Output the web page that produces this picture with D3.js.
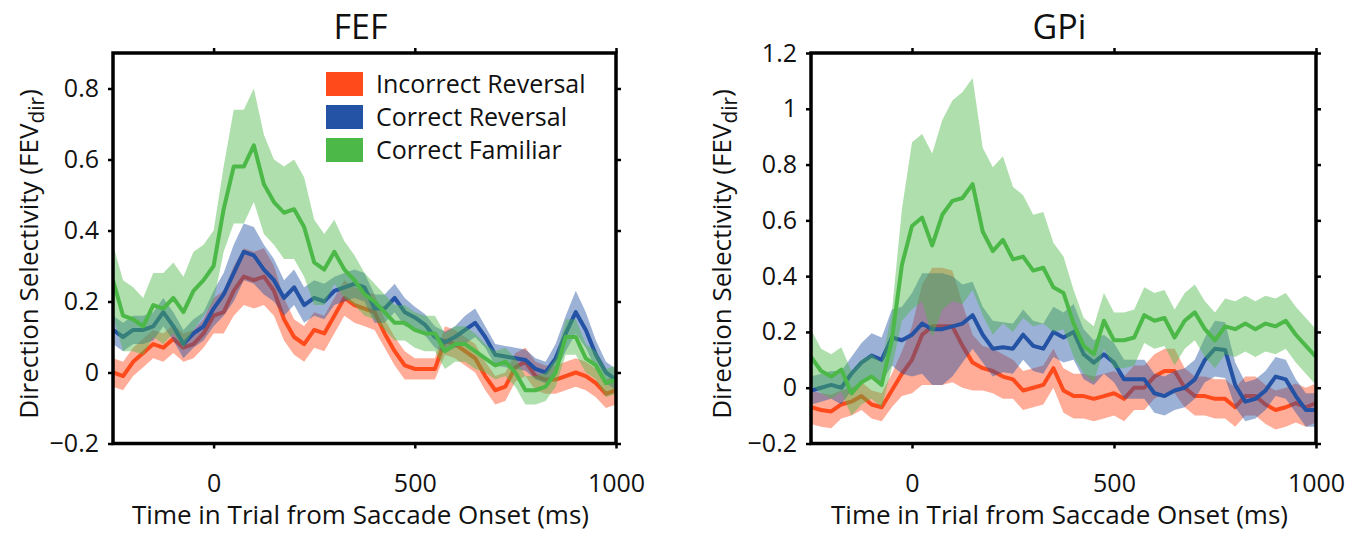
<!DOCTYPE html>
<html>
<head>
<meta charset="utf-8">
<script src="https://cdn.jsdelivr.net/npm/d3@7"></script>
<style>
  body { margin: 0; background: #fff; }
  svg { display: block; font-family: "Open Sans", "DejaVu Sans", sans-serif; }
</style>
</head>
<body>
<svg id="chart" width="1353" height="535"></svg>
<script>
// time axis, 25 ms bins from -250 to 1000 ms
var times = d3.range(-250, 1001, 25);

var seriesNames = ['Incorrect Reversal', 'Correct Reversal', 'Correct Familiar'];
var seriesColors = ['#ff4a1c', '#2452a4', '#4cb848'];

// FEF
var fefRed = [0.00, -0.01, 0.03, 0.055, 0.08, 0.07, 0.095, 0.07, 0.08, 0.11, 0.16, 0.17, 0.23, 0.27, 0.26, 0.27, 0.23, 0.15, 0.10, 0.08, 0.12, 0.11, 0.16, 0.21, 0.19, 0.18, 0.17, 0.11, 0.06, 0.02, 0.01, 0.01, 0.01, 0.09, 0.08, 0.06, 0.04, -0.01, -0.05, -0.04, 0.015, 0.03, -0.01, -0.02, -0.02, -0.01, 0.0, -0.01, -0.03, -0.06, -0.05];
var fefRedErr = [0.04, 0.04, 0.04, 0.04, 0.04, 0.04, 0.04, 0.04, 0.04, 0.04, 0.05, 0.06, 0.07, 0.08, 0.08, 0.08, 0.07, 0.06, 0.05, 0.05, 0.05, 0.05, 0.05, 0.05, 0.05, 0.05, 0.05, 0.04, 0.04, 0.04, 0.03, 0.03, 0.03, 0.04, 0.04, 0.04, 0.04, 0.04, 0.04, 0.04, 0.04, 0.04, 0.04, 0.04, 0.04, 0.04, 0.04, 0.04, 0.04, 0.04, 0.04];
var fefBlue = [0.12, 0.10, 0.12, 0.12, 0.13, 0.17, 0.13, 0.08, 0.11, 0.13, 0.18, 0.22, 0.28, 0.34, 0.33, 0.29, 0.26, 0.21, 0.24, 0.19, 0.21, 0.20, 0.23, 0.24, 0.25, 0.24, 0.18, 0.18, 0.21, 0.17, 0.155, 0.135, 0.10, 0.085, 0.10, 0.12, 0.14, 0.10, 0.05, 0.045, 0.04, 0.035, 0.01, 0.0, 0.04, 0.11, 0.17, 0.12, 0.05, 0.0, -0.02];
var fefBlueErr = [0.04, 0.04, 0.04, 0.04, 0.04, 0.04, 0.04, 0.04, 0.04, 0.04, 0.05, 0.06, 0.08, 0.08, 0.08, 0.07, 0.06, 0.05, 0.05, 0.05, 0.05, 0.05, 0.04, 0.04, 0.04, 0.04, 0.04, 0.04, 0.04, 0.04, 0.03, 0.03, 0.03, 0.03, 0.03, 0.04, 0.04, 0.03, 0.03, 0.03, 0.03, 0.03, 0.03, 0.03, 0.04, 0.05, 0.06, 0.05, 0.04, 0.03, 0.03];
var fefGreen = [0.26, 0.16, 0.15, 0.13, 0.19, 0.18, 0.21, 0.17, 0.23, 0.26, 0.30, 0.46, 0.58, 0.58, 0.64, 0.53, 0.48, 0.45, 0.46, 0.41, 0.31, 0.29, 0.34, 0.29, 0.26, 0.22, 0.20, 0.17, 0.14, 0.14, 0.12, 0.11, 0.11, 0.06, 0.08, 0.08, 0.06, 0.04, 0.02, 0.03, 0.0, -0.05, -0.05, -0.04, 0.0, 0.10, 0.10, 0.04, 0.02, -0.03, -0.02];
var fefGreenErr = [0.10, 0.10, 0.09, 0.08, 0.09, 0.10, 0.10, 0.10, 0.11, 0.10, 0.10, 0.12, 0.16, 0.16, 0.16, 0.14, 0.12, 0.13, 0.14, 0.14, 0.12, 0.10, 0.09, 0.08, 0.07, 0.06, 0.05, 0.05, 0.05, 0.05, 0.05, 0.05, 0.05, 0.05, 0.05, 0.05, 0.05, 0.04, 0.04, 0.04, 0.04, 0.04, 0.04, 0.04, 0.04, 0.05, 0.05, 0.04, 0.04, 0.04, 0.04];

// GPi
var gpiRed = [-0.07, -0.08, -0.085, -0.06, -0.05, -0.03, -0.06, -0.07, -0.01, 0.05, 0.10, 0.19, 0.22, 0.22, 0.22, 0.15, 0.09, 0.07, 0.06, 0.04, 0.03, -0.01, 0.0, 0.01, 0.07, -0.01, -0.03, -0.03, -0.04, -0.03, -0.02, -0.04, 0.0, 0.0, 0.04, 0.06, 0.06, 0.0, -0.03, -0.03, -0.04, -0.04, -0.07, -0.03, -0.03, -0.06, -0.08, -0.07, -0.055, -0.07, -0.055];
var gpiRedErr = [0.06, 0.06, 0.06, 0.05, 0.05, 0.05, 0.05, 0.05, 0.06, 0.08, 0.12, 0.18, 0.21, 0.21, 0.20, 0.15, 0.10, 0.08, 0.08, 0.08, 0.07, 0.07, 0.07, 0.07, 0.07, 0.08, 0.08, 0.08, 0.08, 0.08, 0.08, 0.08, 0.08, 0.08, 0.08, 0.08, 0.08, 0.07, 0.07, 0.07, 0.07, 0.07, 0.07, 0.07, 0.07, 0.07, 0.07, 0.07, 0.07, 0.07, 0.07];
var gpiBlue = [-0.01, 0.0, 0.01, 0.0, 0.05, 0.09, 0.115, 0.10, 0.18, 0.17, 0.19, 0.23, 0.21, 0.21, 0.22, 0.23, 0.26, 0.19, 0.14, 0.145, 0.14, 0.19, 0.15, 0.14, 0.20, 0.18, 0.20, 0.12, 0.09, 0.12, 0.09, 0.03, 0.03, 0.03, -0.02, -0.03, -0.01, 0.0, 0.03, 0.10, 0.14, 0.135, 0.01, -0.05, -0.04, -0.01, 0.04, 0.03, -0.03, -0.08, -0.08];
var gpiBlueErr = [0.05, 0.05, 0.05, 0.06, 0.06, 0.07, 0.08, 0.08, 0.10, 0.12, 0.15, 0.18, 0.20, 0.20, 0.18, 0.14, 0.12, 0.10, 0.10, 0.09, 0.09, 0.09, 0.09, 0.09, 0.09, 0.09, 0.10, 0.09, 0.08, 0.07, 0.07, 0.07, 0.07, 0.07, 0.07, 0.07, 0.07, 0.07, 0.07, 0.08, 0.10, 0.10, 0.08, 0.07, 0.07, 0.07, 0.07, 0.07, 0.06, 0.06, 0.06];
var gpiGreen = [0.11, 0.06, 0.04, 0.065, -0.02, 0.02, 0.04, 0.01, 0.17, 0.44, 0.58, 0.61, 0.51, 0.62, 0.67, 0.68, 0.73, 0.56, 0.49, 0.53, 0.46, 0.47, 0.42, 0.43, 0.36, 0.34, 0.23, 0.15, 0.12, 0.24, 0.17, 0.17, 0.18, 0.26, 0.24, 0.25, 0.18, 0.24, 0.27, 0.21, 0.17, 0.22, 0.21, 0.23, 0.21, 0.23, 0.22, 0.24, 0.19, 0.15, 0.11];
var gpiGreenErr = [0.10, 0.08, 0.08, 0.08, 0.08, 0.08, 0.08, 0.08, 0.10, 0.20, 0.30, 0.30, 0.33, 0.34, 0.36, 0.38, 0.38, 0.30, 0.30, 0.30, 0.26, 0.22, 0.20, 0.20, 0.16, 0.13, 0.12, 0.10, 0.10, 0.10, 0.10, 0.10, 0.10, 0.10, 0.10, 0.10, 0.10, 0.10, 0.10, 0.10, 0.10, 0.10, 0.10, 0.10, 0.10, 0.10, 0.10, 0.10, 0.10, 0.10, 0.10];

var xTicks = [0, 500, 1000];
var fefYTicks = [-0.2, 0, 0.2, 0.4, 0.6, 0.8];
var gpiYTicks = [-0.2, 0, 0.2, 0.4, 0.6, 0.8, 1, 1.2];

var svg = d3.select('#chart');

function fmtTick(d){
    var s = d3.format('')(+d.toFixed(1));
    return s.replace('-', '\u2212');
}

function drawPanel(opts){
    var left = opts.left, right = opts.right, top = 53, bottom = 443.5;

    var x = d3.scaleLinear().domain([-250, 1000]).range([left, right]);
    var y = d3.scaleLinear().domain(opts.yDomain).range([bottom, top]);

    var g = svg.append('g');
    var clipId = 'clip-' + opts.title;

    g.append('clipPath')
        .attr('id', clipId)
        .append('rect')
        .attr('x', left).attr('y', top)
        .attr('width', right - left).attr('height', bottom - top);

    var plot = g.append('g').attr('clip-path', 'url(#' + clipId + ')');

    opts.series.forEach(function(s, k){
        var pts = times.map(function(t, i){ return {t: t, m: s.mean[i], e: s.err[i]}; });

        plot.append('path')
            .datum(pts)
            .attr('fill', seriesColors[k])
            .attr('fill-opacity', 0.45)
            .attr('d', d3.area()
                .x(function(d){ return x(d.t); })
                .y0(function(d){ return y(d.m - d.e); })
                .y1(function(d){ return y(d.m + d.e); }));

        plot.append('path')
            .datum(pts)
            .attr('fill', 'none')
            .attr('stroke', seriesColors[k])
            .attr('stroke-width', 4)
            .attr('stroke-linejoin', 'round')
            .attr('d', d3.line()
                .x(function(d){ return x(d.t); })
                .y(function(d){ return y(d.m); }));
    });

    // axes, ticks pointing out on all four sides
    var axes = [
        {ax: d3.axisBottom(x).tickValues(xTicks).tickFormat(fmtTick).tickPadding(26), tr: 'translate(0,' + bottom + ')'},
        {ax: d3.axisTop(x).tickValues(xTicks).tickFormat(''), tr: 'translate(0,' + top + ')'},
        {ax: d3.axisLeft(y).tickValues(opts.yTicks).tickFormat(fmtTick).tickPadding(9), tr: 'translate(' + left + ',0)'},
        {ax: d3.axisRight(y).tickValues(opts.yTicks).tickFormat(''), tr: 'translate(' + right + ',0)'}
    ];
    axes.forEach(function(a){
        var ag = g.append('g')
            .attr('transform', a.tr)
            .call(a.ax.tickSize(5));
        ag.select('.domain').remove();
        ag.selectAll('line').attr('stroke', '#000').attr('stroke-width', 2.5);
        ag.selectAll('text')
            .attr('fill', '#111')
            .style('font-family', '"Open Sans", sans-serif')
            .style('font-size', '25px');
    });

    g.append('rect')
        .attr('x', left).attr('y', top)
        .attr('width', right - left).attr('height', bottom - top)
        .attr('fill', 'none')
        .attr('stroke', '#000')
        .attr('stroke-width', 3.5);

    g.append('text')
        .attr('x', (left + right) / 2 - 4)
        .attr('y', 39)
        .attr('text-anchor', 'middle')
        .style('font-size', '34px')
        .attr('fill', '#111')
        .text(opts.title);

    g.append('text')
        .attr('x', (left + right) / 2 - 4)
        .attr('y', 524)
        .attr('text-anchor', 'middle')
        .style('font-size', '26px')
        .attr('fill', '#111')
        .text('Time in Trial from Saccade Onset (ms)');

    var yl = g.append('text')
        .attr('transform', 'translate(' + opts.yLabelX + ',254) rotate(-90)')
        .attr('text-anchor', 'middle')
        .style('font-size', '26px')
        .attr('fill', '#111');
    yl.append('tspan').text('Direction Selectivity (FEV');
    yl.append('tspan').attr('dy', 6).style('font-size', '21px').text('dir');
    yl.append('tspan').attr('dy', -6).text(')');

    if (opts.legend) {
        var lg = g.append('g');
        seriesNames.forEach(function(name, k){
            lg.append('rect')
                .attr('x', 326).attr('y', 72 + k * 33)
                .attr('width', 37).attr('height', 24)
                .attr('fill', seriesColors[k]);
            lg.append('text')
                .attr('x', 376).attr('y', 93 + k * 33)
                .style('font-size', '25px')
                .attr('fill', '#111')
                .text(name);
        });
    }
}

drawPanel({
    title: 'FEF', left: 113, right: 616, yDomain: [-0.2, 0.9], yTicks: fefYTicks, yLabelX: 38, legend: true,
    series: [
        {mean: fefRed, err: fefRedErr},
        {mean: fefBlue, err: fefBlueErr},
        {mean: fefGreen, err: fefGreenErr}
    ]
});

drawPanel({
    title: 'GPi', left: 811, right: 1316, yDomain: [-0.2, 1.2], yTicks: gpiYTicks, yLabelX: 731, legend: false,
    series: [
        {mean: gpiRed, err: gpiRedErr},
        {mean: gpiBlue, err: gpiBlueErr},
        {mean: gpiGreen, err: gpiGreenErr}
    ]
});
</script>
</body>
</html>
